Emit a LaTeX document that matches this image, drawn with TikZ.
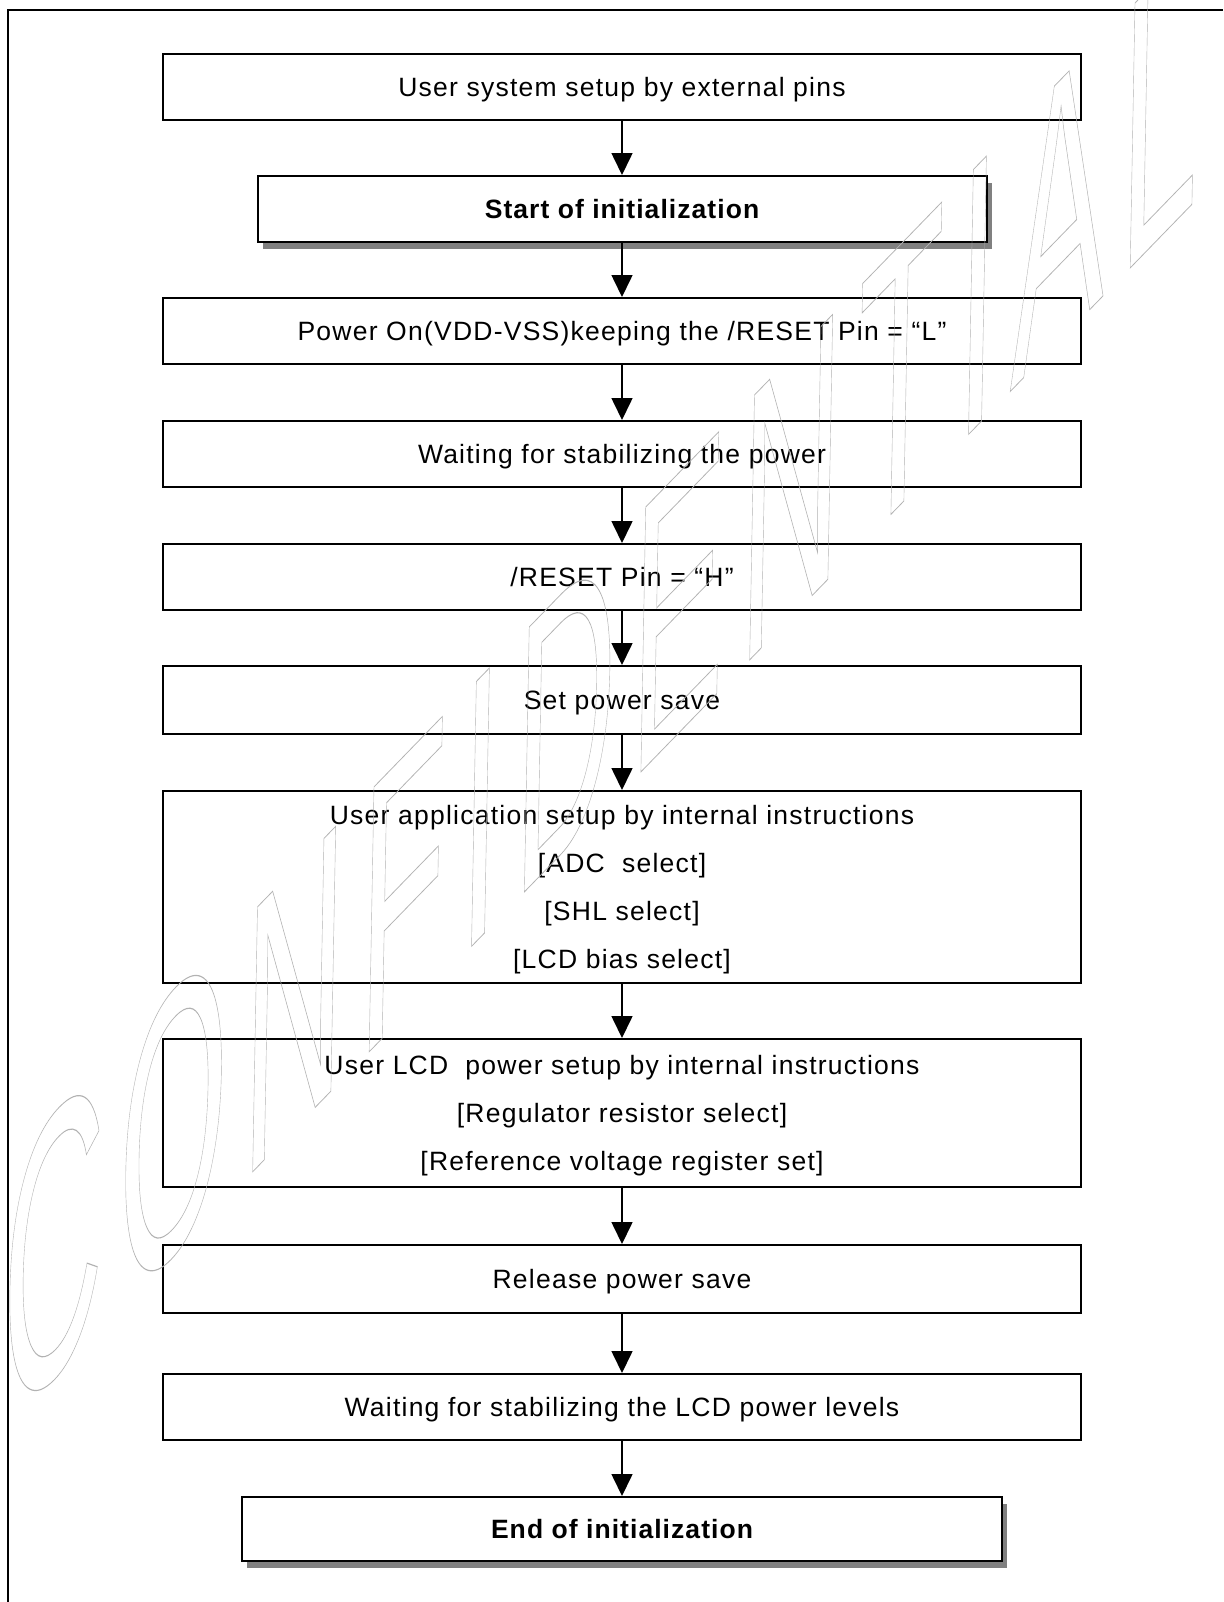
\documentclass[tikz,border=0pt]{standalone}
\usepackage{fontspec}
\setmainfont[LetterSpace=4.7, BoldFeatures={LetterSpace=4}]{Liberation Sans}
\newfontfamily\markfont[LetterSpace=11]{Liberation Sans}
\usetikzlibrary{arrows.meta, shadows}

\tikzset{
  stepbox/.style={draw, line width=1pt, minimum width=459pt, minimum height=33pt,
    inner sep=0pt, align=center, text depth=0pt, font=\fontsize{13.25}{24}\selectfont},
  keybox/.style={stepbox, fill=white, font=\fontsize{13.25}{24}\selectfont\bfseries,
    drop shadow={shadow xshift=2.5pt, shadow yshift=-3.5pt, fill=black!50, opacity=1}},
  flow/.style={line width=0.8pt, -{Triangle[length=11pt, width=10.5pt]}},
  watermark/.style={anchor=base west, inner sep=0pt, text=black!30,
    font=\markfont\fontsize{70}{70}\selectfont, cm={1,1.03,0.05,2.75,(0,0)}},
}

\begin{document}
\begin{tikzpicture}[x=0.5pt, y=-0.5pt]
    % page and frame
    \useasboundingbox (0,0) rectangle (1223,1602);
    \fill[white] (0,0) rectangle (1223,1602);
    \draw[line width=0.75pt] (8,1602) -- (8,10) -- (1223,10);

    % steps
    \node[stepbox] (sys) at (622,87) {User system setup by external pins};
    \node[keybox, minimum width=364.5pt] (start) at (622,209) {Start of initialization};
    \node[stepbox] (pwr) at (622,331) {Power On(VDD-VSS)keeping the /RESET Pin = “L”};
    \node[stepbox] (wait) at (622,454) {Waiting for stabilizing the power};
    \node[stepbox] (rst) at (622,577) {/RESET Pin = “H”};
    \node[stepbox, minimum height=34pt] (save) at (622,700) {Set power save};
    \node[stepbox, minimum height=96pt] (app) at (622,887)
        {User application setup by internal instructions\\
         {[ADC\ \ select]}\\ {[SHL select]}\\ {[LCD bias select]}};
    \node[stepbox, minimum height=74pt] (lcd) at (622,1113)
        {User LCD\ \ power setup by internal instructions\\
         {[Regulator resistor select]}\\ {[Reference voltage register set]}};
    \node[stepbox, minimum height=34pt] (rel) at (622,1279) {Release power save};
    \node[stepbox] (lvl) at (622,1407) {Waiting for stabilizing the LCD power levels};
    \node[keybox, minimum width=380pt, minimum height=32pt] (done) at (622,1529) {End of initialization};

    % arrows
    \draw[flow] (sys.south) -- (start.north);
    \draw[flow] (start.south) -- (pwr.north);
    \draw[flow] (pwr.south) -- (wait.north);
    \draw[flow] (wait.south) -- (rst.north);
    \draw[flow] (rst.south) -- (save.north);
    \draw[flow] (save.south) -- (app.north);
    \draw[flow] (app.south) -- (lcd.north);
    \draw[flow] (lcd.south) -- (rel.north);
    \draw[flow] (rel.south) -- (lvl.north);
    \draw[flow] (lvl.south) -- (done.north);

    % watermark
    \node[watermark] (mark) at (0,1432)
        {\special{pdf:literal direct 1 Tr 0.2 w}CONFIDENTIAL\special{pdf:literal direct 0 Tr}};
\end{tikzpicture}
\end{document}
